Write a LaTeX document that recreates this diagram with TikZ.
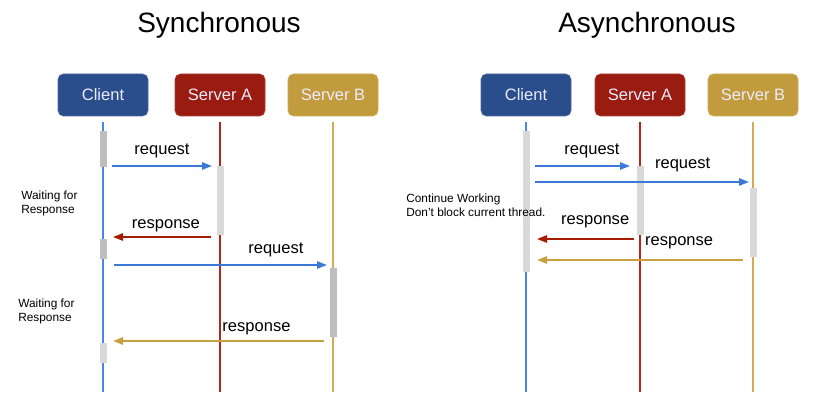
\documentclass[tikz,border=0pt]{standalone}
\usepackage{fontspec}
\setmainfont{Liberation Sans}
\usepackage{xcolor}
\usetikzlibrary{arrows.meta, positioning}

\definecolor{clientbox}{HTML}{2A4D8C}
\definecolor{serverabox}{HTML}{9A1B0F}
\definecolor{serverbbox}{HTML}{C29B3C}
\definecolor{clientline}{HTML}{4A86E8}
\definecolor{serveraline}{HTML}{B3261E}
\definecolor{serverbline}{HTML}{D4AC55}
\definecolor{reqblue}{HTML}{3C78D8}
\definecolor{resred}{HTML}{A61C00}
\definecolor{resgold}{HTML}{C9A040}
\definecolor{bardark}{HTML}{BEBEBE}
\definecolor{barlight}{HTML}{D9D9D9}

\tikzset{
  actor/.style={rounded corners=4pt, minimum width=67.5pt, minimum height=31.5pt, text=white!92!blue, font=\fontsize{12.4}{14}\selectfont},
  lifeline/.style={line width=1.1pt, shorten <=4.5pt},
  msg/.style={line width=1.3pt, -{Triangle[length=7.5pt,width=5.5pt]}},
  msglabel/.style={font=\fontsize{12.4}{14}\selectfont, inner sep=1pt, above=4.5pt},
  note/.style={font=\fontsize{8.9}{10.5}\selectfont, align=left, anchor=west, inner sep=0pt},
  title/.style={font=\fontsize{21}{25}\selectfont, anchor=base},
}

\begin{document}
\begin{tikzpicture}[x=0.75pt, y=-0.75pt]
          \useasboundingbox (0,0) rectangle (833,410);

          % Synchronous
          \node[title] (SyncTitle) at (219,33) {Synchronous};

          \node[actor, fill=clientbox, draw=clientbox!85!white] (SyncClient) at (103,95) {Client};
          \node[actor, fill=serverabox, draw=serverabox!85!white] (SyncServerA) at (220,95) {Server A};
          \node[actor, fill=serverbbox, draw=serverbbox!85!white] (SyncServerB) at (333,95) {Server B};

          \coordinate (SyncClientEnd) at (103,392);
          \coordinate (SyncServerAEnd) at (220,392);
          \coordinate (SyncServerBEnd) at (333,392);

          \draw[lifeline, clientline] (SyncClient) -- (SyncClientEnd);
          \draw[lifeline, serveraline] (SyncServerA) -- (SyncServerAEnd);
          \draw[lifeline, serverbline] (SyncServerB) -- (SyncServerBEnd);

          \fill[bardark] (99.5,131) rectangle (106.5,167);
          \fill[barlight] (216.5,166) rectangle (223.5,235);
          \fill[bardark] (99.5,239) rectangle (106.5,259);
          \fill[bardark] (329.5,268) rectangle (336.5,337);
          \fill[barlight] (99.5,343) rectangle (106.5,363);

          \coordinate (SyncReqAFrom) at (112,166);
          \coordinate (SyncReqATo) at (212,166);
          \coordinate (SyncResAFrom) at (211,237);
          \coordinate (SyncResATo) at (113,237);
          \coordinate (SyncReqBFrom) at (114,265);
          \coordinate (SyncReqBTo) at (327,265);
          \coordinate (SyncResBFrom) at (324,341);
          \coordinate (SyncResBTo) at (113,341);

          \draw[msg, reqblue] (SyncReqAFrom) -- (SyncReqATo) node[msglabel, pos=0.5, text=black] {request};
          \draw[msg, resred] (SyncResAFrom) -- (SyncResATo) node[msglabel, pos=0.46, above=2.5pt, text=black] {response};
          \draw[msg, reqblue] (SyncReqBFrom) -- (SyncReqBTo) node[msglabel, pos=0.76, text=black] {request};
          \draw[msg, resgold] (SyncResBFrom) -- (SyncResBTo) node[msglabel, pos=0.32, above=3pt, text=black] {response};

          \node[note] (SyncWaitA) at (21,203) {Waiting for\\Response};
          \node[note] (SyncWaitB) at (18,311) {Waiting for\\Response};

          % Asynchronous
          \node[title] (AsyncTitle) at (647,33) {Asynchronous};

          \node[actor, fill=clientbox, draw=clientbox!85!white] (AsyncClient) at (526,95) {Client};
          \node[actor, fill=serverabox, draw=serverabox!85!white] (AsyncServerA) at (640,95) {Server A};
          \node[actor, fill=serverbbox, draw=serverbbox!85!white] (AsyncServerB) at (753,95) {Server B};

          \coordinate (AsyncClientEnd) at (526,392);
          \coordinate (AsyncServerAEnd) at (640,392);
          \coordinate (AsyncServerBEnd) at (753,392);

          \draw[lifeline, clientline] (AsyncClient) -- (AsyncClientEnd);
          \draw[lifeline, serveraline] (AsyncServerA) -- (AsyncServerAEnd);
          \draw[lifeline, serverbline] (AsyncServerB) -- (AsyncServerBEnd);

          \fill[barlight] (522.5,131) rectangle (529.5,272);
          \fill[barlight] (636.5,166) rectangle (643.5,235);
          \fill[barlight] (749.5,188) rectangle (756.5,257);

          \coordinate (AsyncReqAFrom) at (535,166);
          \coordinate (AsyncReqATo) at (630,166);
          \coordinate (AsyncReqBFrom) at (535,182);
          \coordinate (AsyncReqBTo) at (749,182);
          \coordinate (AsyncResAFrom) at (634,239);
          \coordinate (AsyncResATo) at (537,239);
          \coordinate (AsyncResBFrom) at (743,260);
          \coordinate (AsyncResBTo) at (537,260);

          \draw[msg, reqblue] (AsyncReqAFrom) -- (AsyncReqATo) node[msglabel, pos=0.6, text=black] {request};
          \draw[msg, reqblue] (AsyncReqBFrom) -- (AsyncReqBTo) node[msglabel, pos=0.69, above=6pt, text=black] {request};
          \draw[msg, resred] (AsyncResAFrom) -- (AsyncResATo) node[msglabel, pos=0.4, above=6.5pt, text=black] {response};
          \draw[msg, resgold] (AsyncResBFrom) -- (AsyncResBTo) node[msglabel, pos=0.31, above=6.5pt, text=black] {response};

          \node[note] (AsyncWork) at (406,205) {Continue Working\\Don't block current thread.};

        \end{tikzpicture}
\end{document}
